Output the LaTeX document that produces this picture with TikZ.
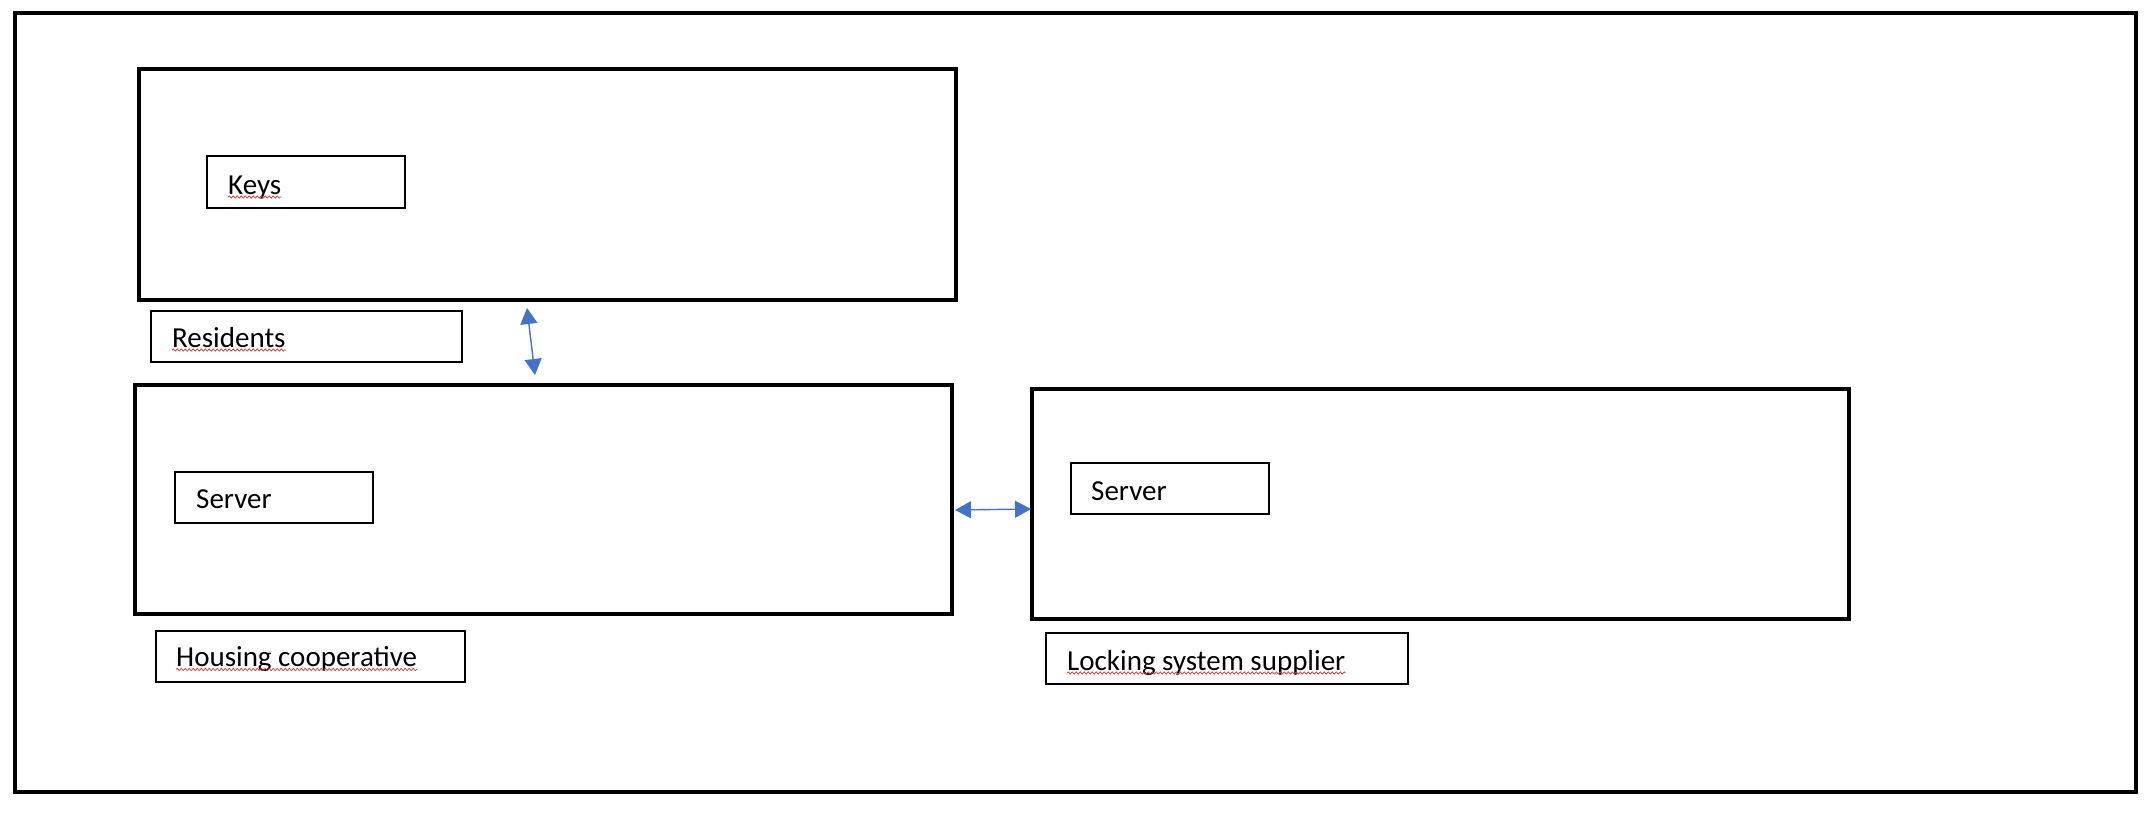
\documentclass[tikz,border=0pt]{standalone}
\usepackage{fontspec}
\setmainfont{Carlito}
\usetikzlibrary{arrows.meta,decorations.pathmorphing}
\definecolor{arrowblue}{HTML}{4472C4}
\definecolor{spellred}{HTML}{E03030}
\tikzset{
  bigbox/.style={draw=black, line width=3.3pt, inner sep=0pt},
  smallbox/.style={draw=black, line width=1.2pt, inner sep=0pt},
  lbl/.style={anchor=base west, inner sep=0pt, font=\fontsize{29}{33}\selectfont},
  conn/.style={draw=arrowblue, line width=1.4pt, {Triangle[width=17pt,length=16pt]}-{Triangle[width=17pt,length=16pt]}},
  squiggle/.style={draw=spellred, line width=0.7pt, decorate, decoration={snake, amplitude=1.1pt, segment length=4pt}}
}
\begin{document}
\begin{tikzpicture}[x=1pt,y=-1pt]
\useasboundingbox (0,0) rectangle (2155,812);
% outer frame
\node[bigbox, minimum width=2121pt, minimum height=779pt] (frame) at (1075.5,402.5) {};
% residents
\node[bigbox, minimum width=817pt, minimum height=231pt] (res) at (547.5,184.5) {};
\node[smallbox, minimum width=198pt, minimum height=52pt] (keys) at (306,182) {};
\node[lbl] (keyst) at (228,194) {Keys};
\node[smallbox, minimum width=311pt, minimum height=51pt] (resl) at (306.5,336.5) {};
\node[lbl] (reslt) at (172,347) {Residents};
% housing cooperative
\node[bigbox, minimum width=817pt, minimum height=229pt] (hc) at (543.5,499.5) {};
\node[smallbox, minimum width=198pt, minimum height=51pt] (srvl) at (274,497.5) {};
\node[lbl] (srvlt) at (196,508) {Server};
\node[smallbox, minimum width=309pt, minimum height=51pt] (hcl) at (310.5,656.5) {};
\node[lbl] (hclt) at (176,666.5) {Housing cooperative};
% locking system supplier
\node[bigbox, minimum width=817pt, minimum height=230pt] (ls) at (1440.5,504) {};
\node[smallbox, minimum width=198pt, minimum height=51pt] (srvr) at (1170,488.5) {};
\node[lbl] (srvrt) at (1091,500) {Server};
\node[smallbox, minimum width=362pt, minimum height=51pt] (lsl) at (1227,658.5) {};
\node[lbl] (lslt) at (1067,670) {Locking system supplier};
% connectors
\coordinate (a1) at (527,308);
\coordinate (a2) at (535,375);
\draw[conn] (a1) -- (a2);
\coordinate (b1) at (955,510);
\coordinate (b2) at (1031,509);
\draw[conn] (b1) -- (b2);
% spell-check underlines
\draw[squiggle] ([yshift=-3pt]keyst.base west) -- ([yshift=-3pt]keyst.base east);
\draw[squiggle] ([yshift=-3pt]reslt.base west) -- ([yshift=-3pt]reslt.base east);
\draw[squiggle] ([yshift=-3pt]hclt.base west) -- ([yshift=-3pt]hclt.base east);
\draw[squiggle] ([yshift=-3pt]lslt.base west) -- ([yshift=-3pt]lslt.base east);
\end{tikzpicture}
\end{document}
